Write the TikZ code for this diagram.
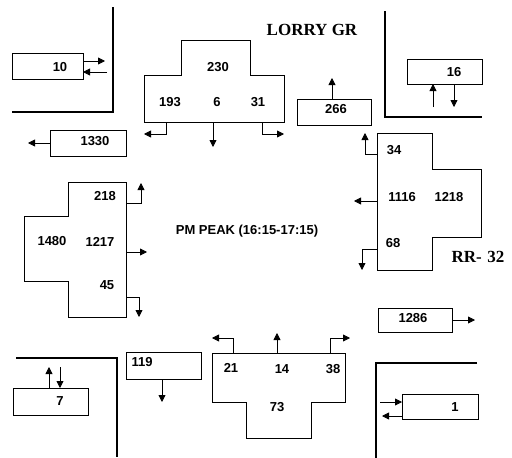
\documentclass[tikz,border=0pt]{standalone}
\usepackage{fontspec}
\setmainfont{Liberation Sans}
\newfontfamily\titlefont{Liberation Serif}
\usetikzlibrary{arrows.meta}
\tikzset{
  wall/.style={line width=2.5pt},
  boxline/.style={draw, line width=0.8pt},
  flow/.style={line width=0.8pt, -{Triangle[length=7pt,width=7pt]}},
  num/.style={inner sep=0pt, font=\bfseries\fontsize{13}{15}\selectfont},
  title/.style={inner sep=0pt, font=\titlefont\bfseries\fontsize{17}{19}\selectfont},
}
\begin{document}
\begin{tikzpicture}[x=1pt,y=-1pt]
\useasboundingbox[fill=white] (0,0) rectangle (512,458);
% walls
\draw[wall] (113,7) -- (113,112) -- (12,112);
\draw[wall] (385,11) -- (385,117) -- (482,117);
\draw[wall] (16,358) -- (117,358) -- (117,457);
\draw[wall] (477,363) -- (376,363) -- (376,458);
% box 10
\draw[boxline] (12,53) rectangle (83,79);
\node[num] (t10) at (60,67) {10};
\draw[flow] (83,61) -- (105,61);
\draw[flow] (107,72) -- (83,72);
% box 1330
\draw[boxline] (50,130) rectangle (126,156);
\node[num] (t1330) at (95,141) {1330};
\draw[flow] (50,143) -- (28,143);
% top shape
\draw[boxline] (181,40) -- (250,40) -- (250,75) -- (284,75) -- (284,122) -- (144,122) -- (144,75) -- (181,75) -- cycle;
\node[num] (t230) at (218,67) {230};
\node[num] (t193) at (170,102) {193};
\node[num] (t6) at (217,102) {6};
\node[num] (t31) at (258,102) {31};
\draw[flow] (166,122) -- (166,134) -- (144,134);
\draw[flow] (213,122) -- (213,147);
\draw[flow] (262,122) -- (262,134) -- (284,134);
% box 266
\draw[boxline] (297,99) rectangle (371,125);
\node[num] (t266) at (336,109) {266};
\draw[flow] (332,99) -- (332,78);
% box 16
\draw[boxline] (407,59) rectangle (482,84);
\node[num] (t16) at (454,72) {16};
\draw[flow] (433,107) -- (433,84);
\draw[flow] (454,84) -- (454,107);
\node[title] (lorry) at (312,30) {LORRY GR};
% right shape
\draw[boxline] (377,133) -- (432,133) -- (432,169) -- (481,169) -- (481,237) -- (432,237) -- (432,270) -- (377,270) -- cycle;
\node[num] (t34) at (394,150) {34};
\node[num] (t1116) at (402,197) {1116};
\node[num] (t1218) at (449,197) {1218};
\node[num] (t68) at (393,243) {68};
\draw[flow] (377,154) -- (365,154) -- (365,133);
\draw[flow] (377,201) -- (354,201);
\draw[flow] (377,249) -- (362,249) -- (362,270);
\node[title] (rr) at (478,257) {RR-\,\,32};
% box 1286
\draw[boxline] (378,308) rectangle (452,332);
\node[num] (t1286) at (413,318) {1286};
\draw[flow] (452,320) -- (475,320);
% left shape
\draw[boxline] (68,182) -- (126,182) -- (126,317) -- (68,317) -- (68,281) -- (24,281) -- (24,216) -- (68,216) -- cycle;
\node[num] (t218) at (105,196) {218};
\node[num] (t1480) at (52,241) {1480};
\node[num] (t1217) at (100,242) {1217};
\node[num] (t45) at (107,285) {45};
\draw[flow] (126,203) -- (141,203) -- (141,183);
\draw[flow] (126,252) -- (147,252);
\draw[flow] (126,297) -- (139,297) -- (139,317);
\node[num] (peak) at (247,231) {PM PEAK (16:15-17:15)};
% box 7
\draw[boxline] (13,388) rectangle (88,415);
\node[num] (t7) at (60,401) {7};
\draw[flow] (49,388) -- (49,367);
\draw[flow] (60,367) -- (60,388);
% box 119
\draw[boxline] (126,352) rectangle (201,379);
\node[num] (t119) at (142,362) {119};
\draw[flow] (162,379) -- (162,402);
% bottom shape
\draw[boxline] (212,353) -- (345,353) -- (345,402) -- (311,402) -- (311,438) -- (246,438) -- (246,402) -- (212,402) -- cycle;
\node[num] (t21) at (231,368) {21};
\node[num] (t14) at (282,369) {14};
\node[num] (t38) at (333,369) {38};
\node[num] (t73) at (277,407) {73};
\draw[flow] (233,353) -- (233,338) -- (212,338);
\draw[flow] (277,353) -- (277,333);
\draw[flow] (330,353) -- (330,338) -- (350,338);
% box 1
\draw[boxline] (402,394) rectangle (478,419);
\node[num] (t1) at (455,407) {1};
\draw[flow] (380,402) -- (402,402);
\draw[flow] (402,416) -- (382,416);
\end{tikzpicture}
\end{document}
